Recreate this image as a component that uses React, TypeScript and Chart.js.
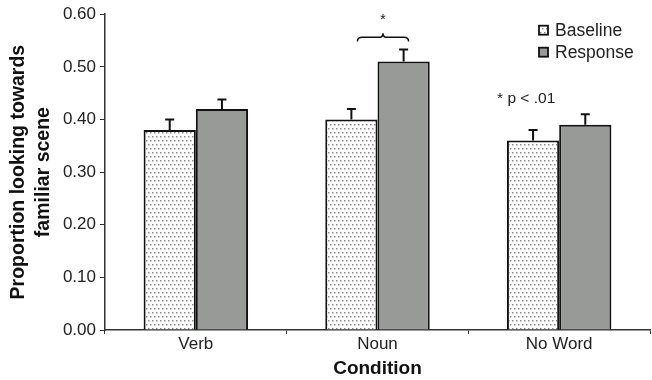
import React, { useEffect, useRef } from "react";
import { Chart, registerables } from "chart.js";

Chart.register(...registerables);

const categories = ["Verb", "Noun", "No Word"];
const baselineValues = [0.38, 0.4, 0.36];
const responseValues = [0.42, 0.51, 0.39];
const baselineErrors = [0.02, 0.02, 0.02];
const responseErrors = [0.018, 0.023, 0.02];
const seriesNames = ["Baseline", "Response"];
const yTicks = [0, 0.1, 0.2, 0.3, 0.4, 0.5, 0.6];

function makeDotPattern(): CanvasPattern | string {
  const c = document.createElement("canvas");
  c.width = 4;
  c.height = 8;
  const g = c.getContext("2d");
  if (!g) return "#eee";
  g.fillStyle = "#ffffff";
  g.fillRect(0, 0, 4, 8);
  g.fillStyle = "#8c8c8c";
  g.fillRect(0, 0, 1.5, 1.5);
  g.fillRect(2, 4, 1.5, 1.5);
  const p = g.createPattern(c, "repeat");
  return p || "#eee";
}

const FONT = "'Liberation Sans', Arial, sans-serif";

export default function App() {
  const ref = useRef<HTMLCanvasElement | null>(null);
  useEffect(() => {
    document.body.style.margin = "0";
    if (!ref.current) return;
    const pattern = makeDotPattern();
    const errs = [baselineErrors, responseErrors];

    const overlay = {
      id: "overlay",
      afterDatasetsDraw(chart: any) {
        const ctx = chart.ctx;
        const ys = chart.scales.y;
        const xs = chart.scales.x;
        ctx.save();
        ctx.strokeStyle = "#111";
        ctx.lineWidth = 2;
        chart.data.datasets.forEach((ds: any, di: number) => {
          const meta = chart.getDatasetMeta(di);
          meta.data.forEach((bar: any, i: number) => {
            const v = ds.data[i];
            const yt = ys.getPixelForValue(v + errs[di][i]);
            const yb = ys.getPixelForValue(v);
            ctx.beginPath();
            ctx.moveTo(bar.x, yb);
            ctx.lineTo(bar.x, yt);
            ctx.moveTo(bar.x - 4.5, yt);
            ctx.lineTo(bar.x + 4.5, yt);
            ctx.stroke();
          });
        });
        // brace over Noun
        const b0 = chart.getDatasetMeta(0).data[1];
        const b1 = chart.getDatasetMeta(1).data[1];
        const x0 = b0.x + 6;
        const x1 = b1.x + 5;
        const yBot = ys.getPixelForValue(0.548);
        const yMid = ys.getPixelForValue(0.556);
        const yTop = ys.getPixelForValue(0.564);
        const xm = (x0 + x1) / 2;
        ctx.lineWidth = 1.5;
        ctx.beginPath();
        ctx.moveTo(x0, yBot);
        ctx.quadraticCurveTo(x0, yMid, x0 + 5, yMid);
        ctx.lineTo(xm - 4, yMid);
        ctx.quadraticCurveTo(xm, yMid, xm, yTop);
        ctx.quadraticCurveTo(xm, yMid, xm + 4, yMid);
        ctx.lineTo(x1 - 5, yMid);
        ctx.quadraticCurveTo(x1, yMid, x1, yBot);
        ctx.stroke();
        ctx.fillStyle = "#222";
        ctx.font = "14px " + FONT;
        ctx.textAlign = "center";
        ctx.textBaseline = "middle";
        ctx.fillText("*", xm, ys.getPixelForValue(0.588));
        // p note
        ctx.font = "15.5px " + FONT;
        ctx.fillText("* p < .01", xs.getPixelForValue(2) - 33, ys.getPixelForValue(0.44));
        // legend
        const lx = chart.chartArea.right - 111;
        const items = [pattern, "#989a98"];
        ctx.textAlign = "left";
        ctx.font = "17.5px " + FONT;
        seriesNames.forEach((name, k) => {
          const cy = chart.chartArea.top + 16 + k * 22;
          ctx.fillStyle = items[k] as any;
          ctx.fillRect(lx, cy - 4.5, 9, 9);
          ctx.lineWidth = 1.8;
          ctx.strokeStyle = "#111";
          ctx.strokeRect(lx, cy - 4.5, 9, 9);
          ctx.fillStyle = "#222";
          ctx.fillText(name, lx + 16, cy + 1);
        });
        ctx.restore();
      },
    };

    const chart = new Chart(ref.current, {
      type: "bar",
      data: {
        labels: categories,
        datasets: [
          {
            label: seriesNames[0],
            data: baselineValues,
            backgroundColor: pattern as any,
            borderColor: "#111",
            borderWidth: 2,
            barPercentage: 1,
            categoryPercentage: 0.575,
          },
          {
            label: seriesNames[1],
            data: responseValues,
            backgroundColor: "#989a98",
            borderColor: "#111",
            borderWidth: 2,
            barPercentage: 1,
            categoryPercentage: 0.575,
          },
        ],
      },
      options: {
        animation: false,
        responsive: false,
        layout: { padding: { top: 10, right: 2, left: 0, bottom: 0 } },
        plugins: { legend: { display: false }, tooltip: { enabled: false } },
        scales: {
          x: {
            afterFit: (s: any) => {
              s.height = 50;
            },
            grid: {
              drawOnChartArea: false,
              tickLength: 4,
              color: "#333",
              offset: true,
            },
            border: { color: "#333", width: 1.5 },
            ticks: { font: { family: FONT, size: 17 }, color: "#222", padding: 0 },
            title: {
              display: true,
              text: "Condition",
              font: { family: FONT, size: 19, weight: "bold" },
              color: "#111",
              padding: { top: 0, bottom: 0 },
            },
          },
          y: {
            min: 0,
            max: 0.6,
            afterBuildTicks: (s: any) => {
              s.ticks = yTicks.map((v) => ({ value: v }));
            },
            afterFit: (s: any) => {
              s.width = 105;
            },
            grid: { drawOnChartArea: false, tickLength: 5, color: "#333" },
            border: { color: "#333", width: 1.5 },
            ticks: {
              font: { family: FONT, size: 17 },
              color: "#222",
              padding: 4,
              callback: (v: any) => Number(v).toFixed(2),
            },
            title: {
              display: true,
              text: ["Proportion looking towards", "familiar scene"],
              font: { family: FONT, size: 19.5, weight: "bold", lineHeight: 1.3 },
              color: "#111",
              padding: { top: 6, bottom: 2 },
            },
          },
        },
      },
      plugins: [overlay],
    });
    return () => chart.destroy();
  }, []);
  return (
    <div style={{ position: "absolute", left: 0, top: 0, width: 652, height: 380 }}>
      <canvas ref={ref} width={652} height={380} style={{ width: 652, height: 380 }} />
    </div>
  );
}
